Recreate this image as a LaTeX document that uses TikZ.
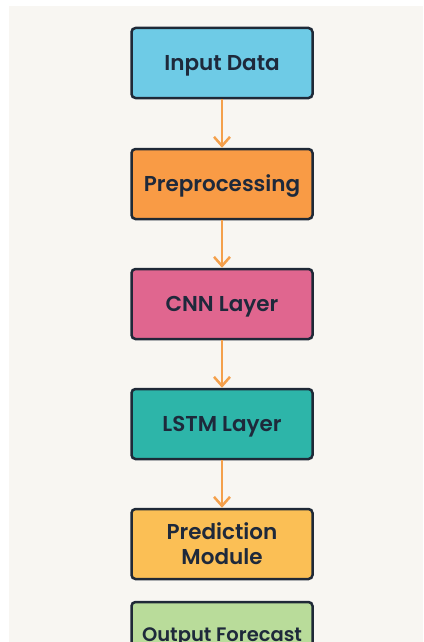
\documentclass[tikz,border=0pt]{standalone}
\usepackage{fontspec}
\setmainfont{Poppins}[BoldFont={Poppins SemiBold}]
\usetikzlibrary{arrows.meta}
\definecolor{panel}{HTML}{F8F6F2}
\definecolor{edge}{HTML}{1F2937}
\definecolor{ink}{HTML}{1E293B}
\definecolor{arrowc}{HTML}{F4A04C}
\definecolor{cIn}{HTML}{6ECBE6}
\definecolor{cPre}{HTML}{F99B45}
\definecolor{cCnn}{HTML}{E0668F}
\definecolor{cLstm}{HTML}{2DB5A9}
\definecolor{cPred}{HTML}{FBBF55}
\definecolor{cOut}{HTML}{B9DC9A}
\tikzset{
  stage/.style={draw=edge, line width=2.5pt, rounded corners=4pt,
    minimum width=181pt, minimum height=70pt, inner sep=0pt,
    text=ink, font=\bfseries\fontsize{21.5}{25}\selectfont, align=center},
  oneline/.style={text height=15.3pt, text depth=0pt},
  flow/.style={draw=arrowc, line width=2.5pt,
    -{Straight Barb[length=9pt,width=16pt,line width=2.5pt]}}
}
\begin{document}
\begin{tikzpicture}[x=1pt,y=-1pt]
\clip (0,0) rectangle (423,642);
\fill[white] (0,0) rectangle (423,642);
\fill[panel] (9,6) rectangle (423,642);
\node[stage, oneline, fill=cIn]   (a) at (222,63)  {Input Data};
\node[stage, oneline, fill=cPre]  (b) at (222,184) {Preprocessing};
\node[stage, oneline, fill=cCnn]  (c) at (222,304) {CNN Layer};
\node[stage, oneline, fill=cLstm] (d) at (222,424) {LSTM Layer};
\node[stage, fill=cPred] (e) at (222,544) {Prediction\\Module};
\node[stage, fill=cOut, font=\bfseries\fontsize{19.5}{25}\selectfont,
      text height=14pt, text depth=5pt]  (f) at (222,637) {Output Forecast};
\draw[flow] (a) -- (b);
\draw[flow] (b) -- (c);
\draw[flow] (c) -- (d);
\draw[flow] (d) -- (e);
\end{tikzpicture}
\end{document}
